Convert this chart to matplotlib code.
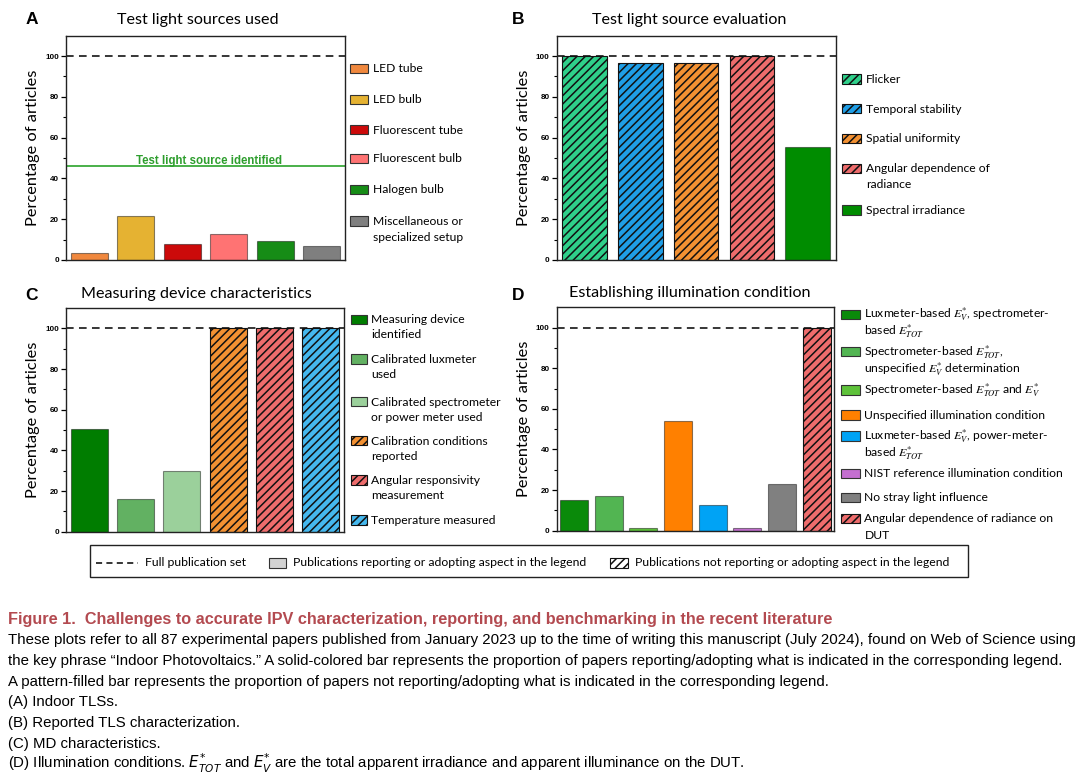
import matplotlib
matplotlib.use('Agg')
import matplotlib.pyplot as plt
from matplotlib.patches import Rectangle
from matplotlib.lines import Line2D
from matplotlib.ticker import FixedLocator

W, H = 1080, 781

# ---- data (percent of the 87 papers) ----
a_labels = ['LED tube', 'LED bulb', 'Fluorescent tube', 'Fluorescent bulb',
            'Halogen bulb', 'Miscellaneous or\nspecialized setup']
a_values = [3.4, 21.8, 8.0, 12.6, 9.2, 6.9]
a_colors = ['#f0883e', '#e5b232', '#cc0a0a', '#ff7373', '#168c16', '#7f7f7f']
a_hatched = [0, 0, 0, 0, 0, 0]
a_identified = 46.0

b_labels = ['Flicker', 'Temporal stability', 'Spatial uniformity',
            'Angular dependence of\nradiance', 'Spectral irradiance']
b_values = [100, 96.6, 96.6, 100, 55.2]
b_colors = ['#2fd08a', '#1f9ee6', '#f39132', '#ee6c6c', '#008c00']
b_hatched = [1, 1, 1, 1, 0]

c_labels = ['Measuring device\nidentified', 'Calibrated luxmeter\nused',
            'Calibrated spectrometer\nor power meter used',
            'Calibration conditions\nreported', 'Angular responsivity\nmeasurement',
            'Temperature measured']
c_values = [50.6, 16.1, 29.9, 100, 100, 100]
c_colors = ['#007d00', '#62b162', '#9bd09b', '#f39132', '#ee6c6c', '#45b8ee']
c_hatched = [0, 0, 0, 1, 1, 1]

d_labels = [r'Luxmeter-based $E_{V}^{*}$, spectrometer-' + '\n' + r'based $E_{TOT}^{*}$',
            r'Spectrometer-based $E_{TOT}^{*}$,' + '\n' + r'unspecified $E_{V}^{*}$ determination',
            r'Spectrometer-based $E_{TOT}^{*}$ and $E_{V}^{*}$',
            'Unspecified illumination condition',
            r'Luxmeter-based $E_{V}^{*}$, power-meter-' + '\n' + r'based $E_{TOT}^{*}$',
            'NIST reference illumination condition',
            'No stray light influence',
            'Angular dependence of radiance on\nDUT']
d_values = [14.9, 17.2, 1.1, 54.0, 12.6, 1.1, 23.0, 100]
d_colors = ['#0a8a0a', '#52b552', '#5ec23a', '#ff8000', '#00a3f5', '#c46fd0', '#808080', '#ee6c6c']
d_hatched = [0, 0, 0, 0, 0, 0, 0, 1]

titles = ['Test light sources used', 'Test light source evaluation',
          'Measuring device characteristics', 'Establishing illumination condition']
letters = ['A', 'B', 'C', 'D']
full_set = 100

key_labels = ['Full publication set', 'Publications reporting or adopting aspect in the legend',
              'Publications not reporting or adopting aspect in the legend']

caption_title = 'Figure 1.  Challenges to accurate IPV characterization, reporting, and benchmarking in the recent literature'
caption_lines = [
    'These plots refer to all 87 experimental papers published from January 2023 up to the time of writing this manuscript (July 2024), found on Web of Science using',
    'the key phrase \u201cIndoor Photovoltaics.\u201d A solid-colored bar represents the proportion of papers reporting/adopting what is indicated in the corresponding legend.',
    'A pattern-filled bar represents the proportion of papers not reporting/adopting what is indicated in the corresponding legend.',
    '(A) Indoor TLSs.',
    '(B) Reported TLS characterization.',
    '(C) MD characteristics.',
    r'(D) Illumination conditions. $E^{*}_{TOT}$ and $E^{*}_{V}$ are the total apparent irradiance and apparent illuminance on the DUT.',
]

plt.rcParams['hatch.linewidth'] = 1.1
UI = 'Lato'
HATCH = '////'
SOLID_EDGE = (0, 0, 0, 0.45)

fig = plt.figure(figsize=(W / 100, H / 100), dpi=100)


def fx(x):
    return x / W


def fy(y):
    return 1 - y / H


def panel(box, values, colors, hatched):
    left, top, right, bottom = box
    ax = fig.add_axes([fx(left), fy(bottom), (right - left) / W, (bottom - top) / H])
    x = range(1, len(values) + 1)
    bars = ax.bar(x, values, width=0.8, color=colors, edgecolor=SOLID_EDGE,
                  linewidth=0.8, zorder=2)
    for b, h in zip(bars, hatched):
        if h:
            b.set_hatch(HATCH)
            b.set_edgecolor('#111111')
    ax.axhline(full_set, color='black', lw=1.1, ls=(0, (5, 3.5)), zorder=1)
    ax.set_xlim(0.5, len(values) + 0.5)
    ax.set_ylim(0, 110)
    ax.set_xticks([])
    ax.set_yticks(range(0, 101, 20))
    ax.yaxis.set_minor_locator(FixedLocator([10, 30, 50, 70, 90]))
    ax.tick_params(axis='y', which='major', direction='out', length=3.6, width=0.9,
                   pad=1.6, labelsize=5.8)
    ax.tick_params(axis='y', which='minor', direction='out', length=2.2, width=0.8)
    for t in ax.get_yticklabels():
        t.set_fontweight('bold')
        t.set_family('Liberation Sans')
    for s in ax.spines.values():
        s.set_linewidth(1.0)
        s.set_color('#222222')
    fig.text(fx(left - 33), fy((top + bottom) / 2), 'Percentage of articles', rotation=90,
             ha='center', va='center', fontsize=11.8, family=UI)
    return ax


def legend(x_patch, w_patch, x_text, ys, line_h, labels, colors, hatched):
    for y, lab, c, h in zip(ys, labels, colors, hatched):
        r = Rectangle((fx(x_patch), fy(y + 4.75)), w_patch / W, 9.5 / H,
                      transform=fig.transFigure, facecolor=c,
                      edgecolor='#111111' if h else '#333333', lw=0.8,
                      hatch=HATCH if h else None)
        fig.add_artist(r)
        for i, line in enumerate(lab.split('\n')):
            fig.text(fx(x_text), fy(y + i * line_h + 4), line, ha='left', va='baseline',
                     fontsize=8.7, family=UI, math_fontfamily='stix')


axA = panel((66, 35.7, 345, 260), a_values, a_colors, a_hatched)
axA.axhline(a_identified, color='#3aaa3a', lw=1.3, zorder=1)
axA.text(0.514, a_identified + 1.3, 'Test light source identified', transform=axA.get_yaxis_transform(),
         ha='center', va='baseline', color='#2e9e2e', fontsize=8.3, fontweight='bold',
         family='Liberation Sans')
panel((556.7, 35.7, 835.5, 260), b_values, b_colors, b_hatched)
panel((66, 308, 344, 531.7), c_values, c_colors, c_hatched)
panel((556.7, 307.3, 834, 530.7), d_values, d_colors, d_hatched)

legend(350, 17.5, 373, [68.3, 99.3, 129.7, 158.3, 189.3, 221], 16, a_labels, a_colors, a_hatched)
legend(842, 18.5, 866, [79, 108.7, 138.3, 168.3, 210], 16, b_labels, b_colors, b_hatched)
legend(350.5, 16, 371, [319.3, 359, 401.7, 440.7, 480, 520], 15, c_labels, c_colors, c_hatched)
legend(841, 18.5, 864.5, [314.5, 351.7, 390, 415, 436.2, 473.3, 497.3, 518.3], 17,
       d_labels, d_colors, d_hatched)

for (lx, ly), letter in zip([(32, 20), (518, 20), (31, 295), (518, 295)], letters):
    fig.text(fx(lx), fy(ly), letter, ha='center', va='center', fontsize=12.5,
             fontweight='bold', family='Liberation Sans')
for (tx, ty), title in zip([(198, 20), (689, 20), (196, 294), (690, 293)], titles):
    fig.text(fx(tx), fy(ty), title, ha='center', va='center', fontsize=11.6, family=UI)

# bottom key
fig.add_artist(Rectangle((fx(89.5), fy(577)), (967.6 - 89.5) / W, 32 / H, transform=fig.transFigure,
                         facecolor='white', edgecolor='#222222', lw=1.0))
fig.add_artist(Line2D([fx(96.4), fx(137.7)], [fy(563), fy(563)], transform=fig.transFigure,
                      color='black', lw=1.1, ls=(0, (4, 2.8))))
fig.add_artist(Rectangle((fx(268.6), fy(568)), 17.2 / W, 10 / H, transform=fig.transFigure,
                         facecolor='#d3d3d3', edgecolor='#333333', lw=0.8))
fig.add_artist(Rectangle((fx(609.5), fy(568)), 18.5 / W, 10 / H, transform=fig.transFigure,
                         facecolor='white', edgecolor='#111111', lw=0.8, hatch=HATCH))
for kx, lab in zip([144.6, 292.7, 635], key_labels):
    fig.text(fx(kx), fy(566.5), lab, ha='left', va='baseline', fontsize=8.85, family=UI)

# caption
fig.text(fx(8), fy(624), caption_title, ha='left', va='baseline', fontsize=11.7,
         fontweight='bold', color='#b34a50', family='Liberation Sans')
for i, line in enumerate(caption_lines):
    fig.text(fx(8), fy(644.3 + i * 20.7), line, ha='left', va='baseline', fontsize=10.8,
             family='Liberation Sans', math_fontfamily='dejavusans')

fig.savefig('out.png', dpi=100)
